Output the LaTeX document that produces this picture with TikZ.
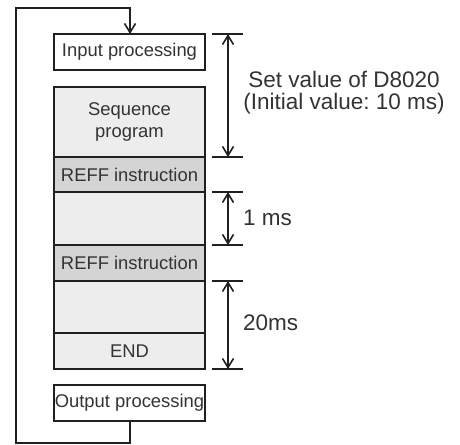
\documentclass[tikz,border=0pt]{standalone}
\usepackage{fontspec}
\setmainfont{Liberation Sans}
\usetikzlibrary{arrows.meta}
\frenchspacing
\definecolor{ln}{HTML}{231F20}
\definecolor{tx}{HTML}{333333}
\definecolor{lightg}{HTML}{EDEDED}
\definecolor{darkg}{HTML}{D4D4D4}
\tikzset{
  blk/.style={draw=ln, line width=1.9pt, minimum width=151pt, inner sep=0pt, outer sep=0pt,
    text=tx, font=\fontsize{18.4}{22.7}\selectfont, align=center},
  plain/.style={blk, fill=white},
  light/.style={blk, fill=lightg},
  reff/.style={blk, fill=darkg},
  wire/.style={draw=ln, line width=1.9pt},
  tick/.style={draw=ln, line width=1.9pt},
  dim/.style={draw=ln, line width=1.9pt, {Straight Barb[length=9pt,width=11pt,line width=1.6pt]}-{Straight Barb[length=9pt,width=11pt,line width=1.6pt]}},
  lbl/.style={text=tx, font=\fontsize{22.5}{21.7}\selectfont, inner sep=0pt}
}
\begin{document}
\begin{tikzpicture}[x=1pt,y=-1pt]
\useasboundingbox (0,0) rectangle (460,444);
% blocks
\node[plain, minimum height=36pt] (inp) at (129.5,52) {Input processing};
\node[light, minimum height=70pt] (seq) at (129.5,122) {Sequence\\program};
\node[reff, minimum height=35pt] (r1) at (129.5,174.5) {REFF instruction};
\node[light, minimum height=53pt] (e1) at (129.5,218.5) {};
\node[reff, minimum height=36pt] (r2) at (129.5,263) {REFF instruction};
\node[light, minimum height=52pt] (e2) at (129.5,307) {};
\node[light, minimum height=36pt] (end) at (129.5,351) {END};
\node[plain, minimum height=36pt] (out) at (129.5,403) {Output processing};
% loop
\coordinate (l1) at (130,443);
\coordinate (l2) at (16,443);
\coordinate (l3) at (16,8);
\coordinate (l4) at (130,8);
\draw[wire, -{Straight Barb[length=9pt,width=11pt,line width=1.6pt]}] (out.south -| l1) -- (l1) -- (l2) -- (l3) -- (l4) -- (inp.north -| l4);
% ticks
\foreach \n/\y in {t1/34,t2/157,t3/192,t4/245,t5/281,t6/369}{
  \coordinate (\n a) at (212,\y);
  \coordinate (\n b) at (243,\y);
  \coordinate (\n m) at (228,\y);
  \draw[tick] (\n a) -- (\n b);
}
\draw[dim] (t1m) -- (t2m);
\draw[dim] (t3m) -- (t4m);
\draw[dim] (t5m) -- (t6m);
% labels
\node[lbl, align=center] (lab1) at (344,93) {Set value of D8020\\(Initial value: 10 ms)};
\node[lbl, anchor=west] (lab2) at (243,218) {1 ms};
\node[lbl, anchor=west] (lab3) at (243,323) {20ms};
\end{tikzpicture}
\end{document}
